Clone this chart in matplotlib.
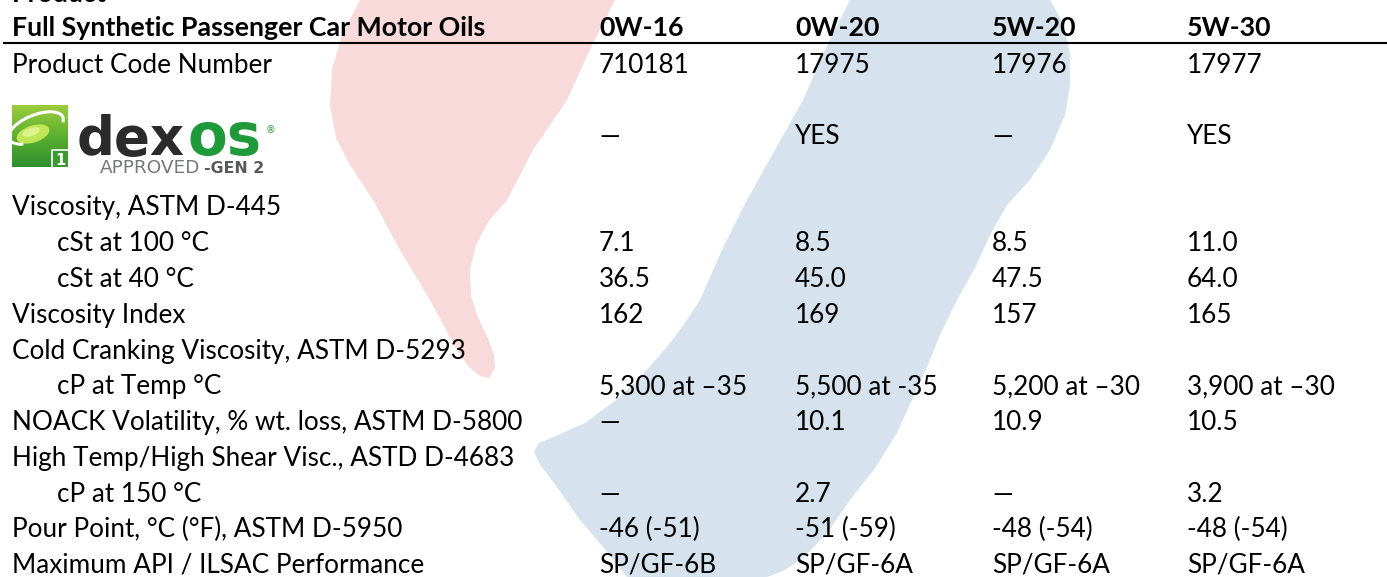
import matplotlib
matplotlib.use("Agg")
import matplotlib.pyplot as plt
import numpy as np
from matplotlib.patches import Polygon, Ellipse, Arc, Rectangle
from matplotlib.colors import LinearSegmentedColormap

# ---------------- data ----------------
title_cut = "Product"
header_label = "Full Synthetic Passenger Car Motor Oils"
grades = ["0W-16", "0W-20", "5W-20", "5W-30"]

row_labels = [
    "Product Code Number",
    "",  # dexos logo row
    "Viscosity, ASTM D-445",
    "cSt at 100 °C",
    "cSt at 40 °C",
    "Viscosity Index",
    "Cold Cranking Viscosity, ASTM D-5293",
    "cP at Temp °C",
    "NOACK Volatility, % wt. loss, ASTM D-5800",
    "High Temp/High Shear Visc., ASTD D-4683",
    "cP at 150 °C",
    "Pour Point, °C (°F), ASTM D-5950",
    "Maximum API / ILSAC Performance",
]
row_indent = [False, False, False, True, True, False, False, True, False, False, True, False, False]

product_codes = ["710181", "17975", "17976", "17977"]
dexos_approved = ["—", "YES", "—", "YES"]
visc_100 = ["7.1", "8.5", "8.5", "11.0"]
visc_40 = ["36.5", "45.0", "47.5", "64.0"]
visc_index = ["162", "169", "157", "165"]
cold_crank = ["5,300 at –35", "5,500 at -35", "5,200 at –30", "3,900 at –30"]
noack = ["—", "10.1", "10.9", "10.5"]
hths = ["—", "2.7", "—", "3.2"]
pour_point = ["-46 (-51)", "-51 (-59)", "-48 (-54)", "-48 (-54)"]
api_ilsac = ["SP/GF-6B", "SP/GF-6A", "SP/GF-6A", "SP/GF-6A"]

row_values = [product_codes, dexos_approved, None, visc_100, visc_40, visc_index,
              None, cold_crank, noack, None, hths, pour_point, api_ilsac]

# ---------------- layout ----------------
W, H = 1387, 577
fig = plt.figure(figsize=(W / 100, H / 100), dpi=100)
ax = fig.add_axes([0, 0, 1, 1])
ax.set_xlim(0, W)
ax.set_ylim(H, 0)
ax.axis("off")
renderer = fig.canvas.get_renderer()


def fit_width(t, width):
    bb = t.get_window_extent(renderer)
    t.set_fontsize(t.get_fontsize() * width / bb.width)
    return t


FONT = "Lato"
FS = 18.8

# ---- watermark shapes ----
red_pts = [(360, 0), (615, 0), (593, 43), (567, 100), (533, 150), (507, 200), (488, 222),
           (476, 245), (470, 270), (471, 295), (478, 318), (488, 338), (494, 355),
           (495, 368), (489, 378), (480, 376), (468, 366), (457, 350), (430, 300),
           (400, 250), (373, 200), (350, 165), (336, 138), (330, 105), (332, 70),
           (342, 35)]
ax.add_patch(Polygon(red_pts, closed=True, facecolor="#f9dada", edgecolor="none", zorder=0))

blue_pts = [(850, 0), (1050, 0), (1064, 25), (1070, 55), (1070, 85), (1065, 115),
            (1050, 150), (1030, 180), (1007, 205), (990, 235), (975, 268), (957, 300),
            (940, 335), (927, 367), (912, 400), (897, 433), (875, 468), (850, 500),
            (827, 533), (805, 556), (785, 570), (767, 577), (627, 577), (610, 555),
            (580, 520), (557, 487), (541, 466), (534, 452), (539, 443), (556, 436),
            (585, 423), (620, 397), (645, 372), (667, 347), (685, 323), (700, 300),
            (722, 250), (747, 200), (775, 150), (803, 100), (825, 50)]
ax.add_patch(Polygon(blue_pts, closed=True, facecolor="#d6e2ed", edgecolor="none", zorder=0))

# ---- header ----
cols_x = [599, 795, 992, 1187]
x_left = 12
x_indent = 57

hdr = ax.text(x_left, 36, header_label, fontsize=FS, fontweight="bold", family=FONT,
              va="baseline", ha="left", zorder=3)
fit_width(hdr, 475)
HFS = hdr.get_fontsize()
ax.text(x_left, 2, title_cut, fontsize=HFS, fontweight="bold", family=FONT,
        va="baseline", ha="left", zorder=3)
for g, cx in zip(grades, cols_x):
    ax.text(cx, 36, g, fontsize=HFS, fontweight="bold", family=FONT,
            va="baseline", ha="left", zorder=3)
ax.plot([3, W], [43, 43], color="black", lw=1.5, solid_capstyle="butt", zorder=3)

# ---- rows ----
baselines = [73, 144, 215, 251, 287, 323, 359, 394, 430, 466, 502, 537, 573]
for lab, ind, vals, yb in zip(row_labels, row_indent, row_values, baselines):
    if lab:
        ax.text(x_indent if ind else x_left, yb, lab, fontsize=FS, family=FONT,
                va="baseline", ha="left", zorder=3)
    if vals is not None:
        for v, cx in zip(vals, cols_x):
            ax.text(cx, yb, v, fontsize=FS, family=FONT, va="baseline", ha="left", zorder=3)

# ---- dexos logo ----
grad = np.linspace(0, 1, 64).reshape(-1, 1) * np.ones((1, 32))
cmap = LinearSegmentedColormap.from_list("g", ["#9ccc3c", "#5cb030", "#2f8f2e"])
ax.imshow(grad, extent=(12, 68, 167, 105), cmap=cmap, aspect="auto", zorder=2,
          interpolation="bilinear")
ax.add_patch(Ellipse((33, 134), 34, 17, angle=-18, facecolor="#c9ec5a",
                     edgecolor="none", zorder=2.2, alpha=0.9))
ax.add_patch(Ellipse((31, 132), 18, 8, angle=-18, facecolor="#e6f7a0",
                     edgecolor="none", zorder=2.3, alpha=0.8))
ax.add_patch(Arc((36, 128), 58, 26, angle=-22, theta1=150, theta2=370,
                 color="white", lw=2.2, zorder=2.4))
ax.add_patch(Rectangle((52, 150), 16, 17, facecolor="#3a9a30", edgecolor="none", zorder=2.5))
ax.plot([52, 52, 68], [167, 150, 150], color="white", lw=1.2, zorder=2.6)
ax.text(60, 165, "1", fontsize=10.5, fontweight="bold", color="white", family="DejaVu Sans",
        ha="center", va="baseline", zorder=2.7)
ax.set_xlim(0, W)
ax.set_ylim(H, 0)

t = ax.text(77, 155, "dex", fontsize=37, fontweight="bold", color="#2b2b2b",
            family="DejaVu Sans", va="baseline", ha="left", zorder=3)
fit_width(t, 108)
t = ax.text(188, 155, "os", fontsize=37, fontweight="bold", color="#1f9a3a",
            family="DejaVu Sans", va="baseline", ha="left", zorder=3)
fit_width(t, 74)
ax.text(266, 133, "®", fontsize=7, color="#1f9a3a", family="DejaVu Sans",
        va="baseline", ha="left", zorder=3)
t = ax.text(100, 173, "APPROVED", fontsize=13, color="#77787b", family="DejaVu Sans",
            va="baseline", ha="left", zorder=3)
fit_width(t, 100)
t = ax.text(204, 173, "-GEN 2", fontsize=12, fontweight="bold", color="#58595b",
            family="DejaVu Sans", va="baseline", ha="left", zorder=3)
fit_width(t, 60)

fig.savefig("out.png", dpi=100, facecolor="white")
